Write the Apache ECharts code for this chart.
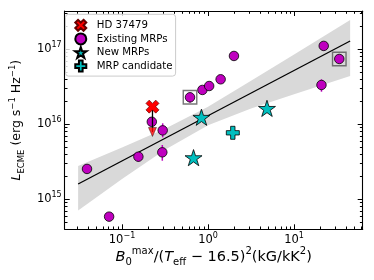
<!DOCTYPE html>
<html><head><meta charset="utf-8">
<script src="https://cdn.jsdelivr.net/npm/echarts@6/dist/echarts.min.js"></script>
<style>html,body{margin:0;padding:0;background:#fff}#c{width:374px;height:280px}</style>
</head><body><div id="c"></div><script>
// ---- data ----
const existingX = [0.0392, 0.0708, 0.155, 0.294, 0.297, 0.222, 0.617, 0.86, 1.03, 1.40, 2.0, 22.1, 33.5, 20.8];
const existingY = [2.54e15, 5.87e14, 3.7e15, 4.23e15, 8.3e15, 1.08e16, 2.29e16, 2.87e16, 3.24e16, 3.98e16, 8.15e16, 1.11e17, 7.43e16, 3.34e16];
const errX = [0.155, 0.294, 0.297, 0.617, 20.8];
const errLow = [3.17e15, 3.27e15, 6.7e15, 1.94e16, 2.72e16];
const errHigh = [4.18e15, 5.3e15, 1.03e16, 2.6e16, 3.98e16];
const boxX = [0.617, 33.5];
const boxY = [2.29e16, 7.43e16];
const newX = [0.838, 0.678, 4.84];
const newY = [1.24e16, 3.59e15, 1.63e16];
const candX = [1.94];
const candY = [7.7e15];
const hdX = [0.226];
const hdY = [1.72e16];
const hdLimY = [7.9e15];
const fitX = [0.0309, 44.8];
const fitY = [1.6e15, 1.29e17];
const bandX = [0.0309, 0.1, 0.316, 1, 3.16, 10, 44.8];
const bandUp = [2.78e15, 4.9e15, 8.7e15, 1.72e16, 3.8e16, 8.5e16, 2.45e17];
const bandLo = [7.1e14, 1.86e15, 4.57e15, 9.7e15, 1.62e16, 2.51e16, 4.4e16];
const xMajor = [0.1, 1, 10];
const xMinor = [0.03,0.04,0.05,0.06,0.07,0.08,0.09,0.2,0.3,0.4,0.5,0.6,0.7,0.8,0.9,2,3,4,5,6,7,8,9,20,30,40,50,60];
const yMajor = [1e15, 1e16, 1e17];
const yMinor = [5e14,6e14,7e14,8e14,9e14,2e15,3e15,4e15,5e15,6e15,7e15,8e15,9e15,2e16,3e16,4e16,5e16,6e16,7e16,8e16,9e16,2e17,3e17];
const XMIN = 0.02158, XMAX = 62.7, YMIN = 3.98e14, YMAX = 3.24e17;

const FONT = 'DejaVu Sans';
const STAR = 'path://M100,0L122.45,69.1L195.1,69.1L136.3,111.8L158.8,180.9L100,138.2L41.2,180.9L63.7,111.8L4.9,69.1L77.55,69.1Z';
const XMARK = 'path://M42.42,0L56.56,14.14L42.42,28.28L56.56,42.42L42.42,56.56L28.28,42.42L14.14,56.56L0,42.42L14.14,28.28L0,14.14L14.14,0L28.28,14.14Z';
const PLUS = 'path://M20,0L40,0L40,20L60,20L60,40L40,40L40,60L20,60L20,40L0,40L0,20L20,20Z';

const tickRich = {
  b: {fontSize: 11.5, fontFamily: FONT, color: '#000', lineHeight: 16},
  s: {fontSize: 8, fontFamily: FONT, color: '#000', lineHeight: 8, verticalAlign: 'top'}
};
function powFmt(v) {
  const e = Math.round(Math.log10(v));
  return '{b|10}{s|' + String(e).replace('-', '\u2212') + '}';
}
const yNameRich = {
  n: {fontSize: 12.5, fontFamily: FONT, color: '#000', lineHeight: 18},
  i: {fontSize: 12.5, fontFamily: FONT, fontStyle: 'italic', color: '#000', lineHeight: 18},
  sub: {fontSize: 8.5, fontFamily: FONT, color: '#000', lineHeight: 9, verticalAlign: 'bottom'},
  sup: {fontSize: 8.5, fontFamily: FONT, color: '#000', lineHeight: 9, verticalAlign: 'top'}
};
const xNameRich = {
  n: {fontSize: 14.5, fontFamily: FONT, color: '#000', lineHeight: 21},
  i: {fontSize: 14.5, fontFamily: FONT, fontStyle: 'italic', color: '#000', lineHeight: 21},
  sub: {fontSize: 10, fontFamily: FONT, color: '#000', lineHeight: 10, verticalAlign: 'bottom'},
  sup: {fontSize: 10, fontFamily: FONT, color: '#000', lineHeight: 10, verticalAlign: 'top'}
};
const lineBlack = {color: '#000', width: 1.1};

function mkAxis(dim, pos, vals, len, major, extra) {
  const ax = {
    type: 'log', logBase: 10, position: pos,
    min: dim === 'x' ? XMIN : YMIN, max: dim === 'x' ? XMAX : YMAX,
    axisLine: {show: major, lineStyle: lineBlack},
    axisTick: {show: true, inside: true, length: len, customValues: vals, lineStyle: {color: '#000', width: 1}},
    axisLabel: {show: false},
    splitLine: {show: false},
    minorTick: {show: false}, minorSplitLine: {show: false}
  };
  return Object.assign(ax, extra || {});
}

const xAxes = [
  mkAxis('x', 'bottom', xMajor, 5, true, {
    axisLabel: {show: true, customValues: xMajor, formatter: powFmt, rich: tickRich, margin: 3},
    name: '{i|B}{sub|0}{sup|max}{n|/(}{i|T}{sub|eff}{n| \u2212 16.5)}{sup|2}{n|(kG/kK}{sup|2}{n|)}',
    nameLocation: 'middle', nameGap: 17, nameMoveOverlap: false, nameTextStyle: {rich: xNameRich}
  }),
  mkAxis('x', 'bottom', xMinor, 2.8, false),
  mkAxis('x', 'top', xMajor, 5, true),
  mkAxis('x', 'top', xMinor, 2.8, false)
];
const yAxes = [
  mkAxis('y', 'left', yMajor, 5, true, {
    axisLabel: {show: true, customValues: yMajor, formatter: powFmt, rich: tickRich, margin: 3},
    name: '{i|L}{sub|ECME}{n| (erg s}{sup|\u22121}{n| Hz}{sup|\u22121}{n|)}',
    nameLocation: 'middle', nameGap: 20, nameTextStyle: {rich: yNameRich}
  }),
  mkAxis('y', 'left', yMinor, 2.8, false),
  mkAxis('y', 'right', yMajor, 5, true),
  mkAxis('y', 'right', yMinor, 2.8, false)
];

const option = {
  animation: false,
  backgroundColor: '#fff',
  grid: {left: 60.7, right: 11.3, top: 11, bottom: 50.7, containLabel: false},
  xAxis: xAxes,
  yAxis: yAxes,
  legend: {
    orient: 'vertical', left: 65.5, top: 14.3,
    padding: [4.5, 3, 3.5, 8.5],
    itemWidth: 22, itemHeight: 11, itemGap: 0.6,
    backgroundColor: 'rgba(255,255,255,0.8)', borderColor: '#cccccc', borderWidth: 1, borderRadius: 3,
    textStyle: {fontSize: 10.2, fontFamily: FONT, color: '#000', lineHeight: 12},
    data: ['HD 37479', 'Existing MRPs', 'New MRPs', 'MRP candidate']
  },
  series: [
    {
      type: 'custom', silent: true, z: 1,
      data: [[bandX[0], bandUp[0]]],
      renderItem: function (params, api) {
        const pts = [];
        for (let i = 0; i < bandX.length; i++) pts.push(api.coord([bandX[i], bandUp[i]]));
        for (let i = bandX.length - 1; i >= 0; i--) pts.push(api.coord([bandX[i], bandLo[i]]));
        return {type: 'polygon', shape: {points: pts}, style: {fill: '#d9d9d9'}};
      }
    },
    {
      type: 'line', z: 2, silent: true, symbol: 'none',
      data: fitX.map((x, i) => [x, fitY[i]]),
      lineStyle: {color: '#000', width: 1.3}
    },
    {
      type: 'custom', z: 3, silent: true,
      data: errX.map((x, i) => [x, errLow[i], errHigh[i]]),
      encode: {x: 0, y: [1, 2]},
      renderItem: function (params, api) {
        const a = api.coord([api.value(0), api.value(1)]);
        const b = api.coord([api.value(0), api.value(2)]);
        return {type: 'line', shape: {x1: a[0], y1: a[1], x2: b[0], y2: b[1]}, style: {stroke: '#bf00bf', lineWidth: 1.5}};
      }
    },
    {
      name: 'Existing MRPs', type: 'scatter', z: 4,
      data: existingX.map((x, i) => [x, existingY[i]]),
      symbol: 'circle', symbolSize: 9.5,
      itemStyle: {color: '#bf00bf', borderColor: '#000', borderWidth: 0.8, opacity: 1}
    },
    {
      type: 'scatter', z: 4, silent: true,
      data: boxX.map((x, i) => [x, boxY[i]]),
      symbol: 'rect', symbolSize: 13.5,
      itemStyle: {color: 'rgba(0,0,0,0)', borderColor: '#555', borderWidth: 1.4}
    },
    {
      name: 'New MRPs', type: 'scatter', z: 5,
      data: newX.map((x, i) => [x, newY[i]]),
      symbol: STAR, symbolKeepAspect: true, symbolSize: 17,
      itemStyle: {color: '#00bfbf', borderColor: '#000', borderWidth: 0.8, opacity: 1}
    },
    {
      name: 'MRP candidate', type: 'scatter', z: 5,
      data: candX.map((x, i) => [x, candY[i]]),
      symbol: PLUS, symbolKeepAspect: true, symbolSize: 13,
      itemStyle: {color: '#00bfbf', borderColor: '#000', borderWidth: 0.8, opacity: 1}
    },
    {
      type: 'line', z: 6, silent: true, symbol: 'none',
      data: [[hdX[0], hdY[0]], [hdX[0], hdLimY[0]]],
      lineStyle: {color: '#000', width: 1.3}
    },
    {
      type: 'scatter', z: 7, silent: true,
      data: hdX.map((x, i) => [x, hdLimY[i]]),
      symbol: 'triangle', symbolRotate: 180, symbolSize: [8, 9],
      itemStyle: {color: '#ff0000', borderColor: '#000', borderWidth: 0.5}
    },
    {
      name: 'HD 37479', type: 'scatter', z: 8,
      data: hdX.map((x, i) => [x, hdY[i]]),
      symbol: XMARK, symbolKeepAspect: true, symbolSize: 13,
      itemStyle: {color: '#ff0000', borderColor: '#600', borderWidth: 0.7, opacity: 1}
    }
  ]
};
const chart = echarts.init(document.getElementById('c'), null, {renderer: 'canvas'});
chart.setOption(option);
</script></body></html>
